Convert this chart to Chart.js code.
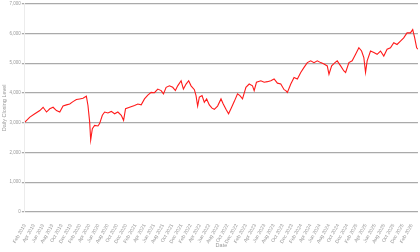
<!DOCTYPE html>
<html>
<head>
<meta charset="utf-8">
<script src="https://cdn.jsdelivr.net/npm/chart.js@4"></script>
<style>
  html, body { margin: 0; padding: 0; background: #fff; }
  #wrap { width: 420px; height: 252px; }
</style>
</head>
<body>
<div id="wrap"><canvas id="closingChart"></canvas></div>
<script>
// months elapsed since 1 Feb 2019
const monthsSinceStart = [
  0.00, 1.08, 2.16, 3.25, 3.96, 4.70, 5.41, 6.13, 6.86, 7.58,
  8.29, 9.03, 9.74, 10.45, 11.19, 11.90, 12.62, 13.35, 13.70, 14.07,
  14.29, 14.65, 15.15, 15.87, 16.23, 16.82, 17.32, 18.03, 18.77, 19.48,
  20.19, 20.93, 21.43, 21.86, 22.73, 23.81, 24.52, 25.26, 25.97, 26.69,
  27.42, 28.14, 28.85, 29.59, 30.09, 30.67, 31.39, 32.10, 32.68, 33.18,
  33.92, 34.42, 35.00, 35.56, 36.08, 36.80, 37.16, 37.51, 37.88, 38.46,
  38.96, 39.46, 40.04, 40.63, 41.13, 41.84, 42.58, 43.07, 43.66, 44.22,
  44.74, 45.45, 46.17, 46.69, 47.25, 47.99, 48.70, 49.42, 49.78, 50.28,
  51.23, 51.95, 52.66, 53.40, 54.11, 54.83, 55.56, 56.28, 56.65, 56.99,
  57.73, 58.44, 59.16, 59.89, 60.61, 61.32, 62.06, 62.77, 63.48, 64.22,
  64.94, 65.65, 66.02, 66.60, 67.32, 67.81, 68.55, 69.26, 69.63, 70.35,
  71.06, 71.80, 72.51, 73.10, 73.59, 73.96, 74.31, 75.04, 75.76, 76.47,
  77.21, 77.92, 78.64, 79.37, 80.09, 80.80, 81.54, 82.25, 82.97, 83.70,
  84.20, 84.63, 85.06, 85.34
];

const closingLevels = [
  3020, 3190, 3300, 3410, 3520, 3360, 3470, 3520, 3410, 3360,
  3560, 3600, 3630, 3710, 3780, 3800, 3820, 3890, 3580, 3020,
  2420, 2800, 2910, 2890, 2970, 3250, 3360, 3330, 3380, 3300,
  3360, 3250, 3080, 3470, 3520, 3580, 3630, 3600, 3800, 3930,
  4020, 4010, 4130, 4080, 3970, 4190, 4240, 4190, 4080, 4240,
  4410, 4130, 4300, 4410, 4240, 4110, 3910, 3560, 3860, 3910,
  3690, 3800, 3600, 3490, 3450, 3560, 3800, 3630, 3450, 3300,
  3470, 3710, 3970, 3910, 3800, 4190, 4300, 4240, 4080, 4360,
  4410, 4360, 4380, 4410, 4470, 4330, 4300, 4110, 4080, 4020,
  4300, 4520, 4470, 4690, 4860, 5020, 5080, 5020, 5080, 5020,
  4970, 4910, 4630, 4910, 5020, 5080, 4910, 4740, 4690, 5020,
  5080, 5300, 5520, 5410, 5190, 4690, 5080, 5410, 5360, 5300,
  5410, 5240, 5470, 5520, 5690, 5630, 5740, 5850, 6020, 6020,
  6130, 5850, 5520, 5470
];

const tickLabels = [
  'Feb 2019', 'Apr 2019', 'Jun 2019', 'Aug 2019', 'Oct 2019', 'Dec 2019',
  'Feb 2020', 'Apr 2020', 'Jun 2020', 'Aug 2020', 'Oct 2020', 'Dec 2020',
  'Feb 2021', 'Apr 2021', 'Jun 2021', 'Aug 2021', 'Oct 2021', 'Dec 2021',
  'Feb 2022', 'Apr 2022', 'Jun 2022', 'Aug 2022', 'Oct 2022', 'Dec 2022',
  'Feb 2023', 'Apr 2023', 'Jun 2023', 'Aug 2023', 'Oct 2023', 'Dec 2023',
  'Feb 2024', 'Apr 2024', 'Jun 2024', 'Aug 2024', 'Oct 2024', 'Dec 2024',
  'Feb 2025', 'Apr 2025', 'Jun 2025', 'Aug 2025', 'Oct 2025', 'Dec 2025',
  'Feb 2026'
];
const monthsPerTick = 2;

const grey = '#9a9a9a';
const fontFamily = '"Liberation Sans", "Open Sans", sans-serif';

const ctx = document.getElementById('closingChart');

new Chart(ctx, {
  type: 'line',
  data: {
    datasets: [{
      label: 'Daily Closing Level',
      data: monthsSinceStart.map((m, i) => ({ x: m, y: closingLevels[i] })),
      borderColor: '#ff1a1a',
      borderWidth: 1.1,
      pointRadius: 0,
      tension: 0,
      fill: false
    }]
  },
  options: {
    responsive: true,
    maintainAspectRatio: false,
    animation: false,
    layout: { padding: { top: 2, right: 1, left: 1, bottom: 3 } },
    plugins: {
      legend: { display: false },
      tooltip: { enabled: false }
    },
    scales: {
      x: {
        type: 'linear',
        min: monthsSinceStart[0],
        max: monthsSinceStart[monthsSinceStart.length - 1],
        afterBuildTicks: (scale) => {
          scale.ticks = tickLabels.map((_, i) => ({ value: i * monthsPerTick }));
        },
        afterFit: (scale) => { scale.height = 37; },
        ticks: {
          autoSkip: false,
          minRotation: 60,
          maxRotation: 60,
          padding: 3,
          color: grey,
          font: { family: fontFamily, size: 5 },
          callback: (v, i) => tickLabels[i]
        },
        grid: { display: false },
        border: { display: false },
        title: {
          display: true,
          text: 'Date',
          color: grey,
          font: { family: fontFamily, size: 5.5 },
          padding: { top: 1, bottom: 0 }
        }
      },
      y: {
        min: 0,
        max: 7000,
        ticks: {
          stepSize: 1000,
          padding: 1,
          color: grey,
          font: { family: fontFamily, size: 4.5 }
        },
        grid: { color: '#aaaaaa', lineWidth: 1.3, tickLength: 3 },
        border: { color: '#ececec', width: 1 },
        title: {
          display: true,
          text: 'Daily Closing Level',
          color: grey,
          font: { family: fontFamily, size: 5.5 },
          padding: { top: 0, bottom: 1 }
        }
      }
    }
  }
});
</script>
</body>
</html>
